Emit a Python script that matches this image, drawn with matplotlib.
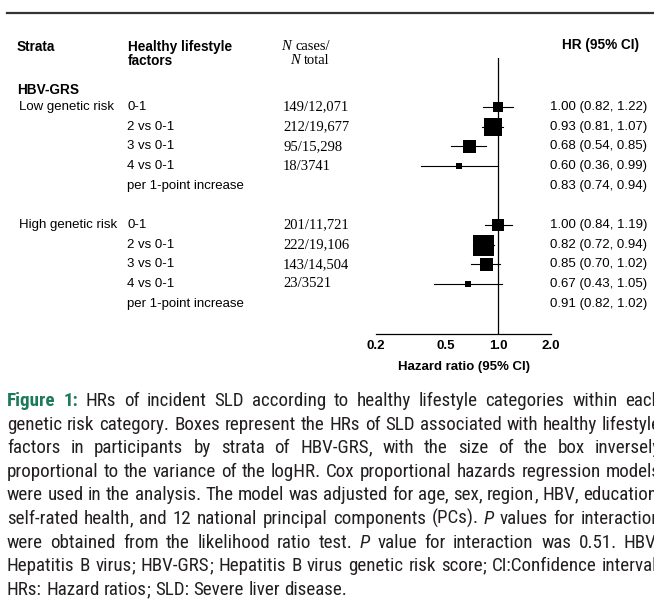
import re
import matplotlib
matplotlib.use("Agg")
import matplotlib.pyplot as plt
import matplotlib.font_manager as fm
from matplotlib.lines import Line2D
from matplotlib.ticker import FixedLocator, NullFormatter
from matplotlib.transforms import blended_transform_factory

# ---------------- data ----------------
group_names = ["Low genetic risk", "High genetic risk"]
factor_labels = ["0-1", "2 vs 0-1", "3 vs 0-1", "4 vs 0-1", "per 1-point increase"]

cases_low = ["149/12,071", "212/19,677", "95/15,298", "18/3741", ""]
cases_high = ["201/11,721", "222/19,106", "143/14,504", "23/3521", ""]

hr_low = [1.00, 0.93, 0.68, 0.60, 0.83]
lo_low = [0.82, 0.81, 0.54, 0.36, 0.74]
hi_low = [1.22, 1.07, 0.85, 0.99, 0.94]

hr_high = [1.00, 0.82, 0.85, 0.67, 0.91]
lo_high = [0.84, 0.72, 0.70, 0.43, 0.82]
hi_high = [1.19, 0.94, 1.02, 1.05, 1.02]

plotted = [True, True, True, True, False]

x_ticks = [0.2, 0.5, 1.0, 2.0]
x_tick_labels = ["0.2", "0.5", "1.0", "2.0"]

# box side lengths in pixels (style)
box_px_low = [10, 18, 13, 6, 0]
box_px_high = [12, 21, 13, 6, 0]

caption_lines = [
    "*Figure *1: HRs of incident SLD according to healthy lifestyle categories within each",
    "genetic risk category. Boxes represent the HRs of SLD associated with healthy lifestyle",
    "factors in participants by strata of HBV-GRS, with the size of the box inversely",
    "proportional to the variance of the logHR. Cox proportional hazards regression models",
    "were used in the analysis. The model was adjusted for age, sex, region, HBV, education,",
    "self-rated health, and 12 national principal components (PCs). _P values for interaction",
    "were obtained from the likelihood ratio test. _P value for interaction was 0.51. HBV:",
    "Hepatitis B virus; HBV-GRS; Hepatitis B virus genetic risk score; CI:Confidence interval;",
    "HRs: Hazard ratios; SLD: Severe liver disease.",
]

# ---------------- fonts ----------------
SANS = "Liberation Sans"
SERIF = "Liberation Serif"
fonts = fm.fontManager.ttflist
names = {f.name for f in fonts}
cap_kw = {"family": SANS}
for cand in ["Roboto Condensed", "Liberation Sans Narrow", "Open Sans Condensed", "Arial Narrow"]:
    if cand in names:
        cap_kw = {"family": cand}
        break
else:
    if any(f.name == "DejaVu Sans" and str(f.stretch) == "condensed" for f in fonts):
        cap_kw = {"family": "DejaVu Sans", "fontstretch": "condensed"}

# ---------------- figure ----------------
W, H = 654, 610
fig = plt.figure(figsize=(W / 100, H / 100), dpi=100)
fig.patch.set_facecolor("white")
renderer = fig.canvas.get_renderer()


def fx(px):
    return px / W


def fy(py):
    return 1 - py / H


# top rule
fig.add_artist(Line2D([fx(7), 1.0], [fy(13), fy(13)], lw=1.6, color="#333333"))

AX_L, AX_R, AX_T, AX_B = 376, 551, 58, 334
ax = fig.add_axes([fx(AX_L), fy(AX_B), (AX_R - AX_L) / W, (AX_B - AX_T) / H])
ax.set_xscale("log")
ax.set_xlim(0.2, 2.0)
ax.set_ylim(11.55, -2.5)
ax.set_facecolor("none")
for s in ["top", "left", "right"]:
    ax.spines[s].set_visible(False)
ax.spines["bottom"].set_linewidth(0.9)
ax.set_yticks([])
ax.set_xticks(x_ticks)
ax.set_xticklabels(x_tick_labels, fontfamily=SANS, fontweight="bold", fontsize=9.5)
ax.xaxis.set_minor_locator(FixedLocator([0.2, 2.0]))
ax.xaxis.set_minor_formatter(NullFormatter())
ax.tick_params(axis="x", which="major", length=0, pad=4.5)
ax.tick_params(axis="x", which="minor", direction="in", length=4, width=0.9)
ax.set_xlabel("Hazard ratio (95% CI)", fontfamily=SANS, fontweight="bold",
              fontsize=9.5, labelpad=6)

ax.axvline(1.0, color="black", lw=0.9, zorder=1)

groups = [
    (0, group_names[0], cases_low, hr_low, lo_low, hi_low, box_px_low),
    (6, group_names[1], cases_high, hr_high, lo_high, hi_high, box_px_high),
]

trans = blended_transform_factory(fig.transFigure, ax.transData)
body = dict(fontfamily=SANS, fontsize=9.5, color="black", va="center", transform=trans)

for start, gname, cases, hr, lo, hi, box in groups:
    ax.text(fx(19), start, gname, **body)
    for i in range(len(factor_labels)):
        y = start + i
        ax.text(fx(127), y, factor_labels[i], **body)
        if cases[i]:
            ax.text(fx(283), y, cases[i], fontfamily=SERIF, fontsize=10.5,
                    color="black", va="center", transform=trans)
        ax.text(fx(550), y, f"{hr[i]:.2f} ({lo[i]:.2f}, {hi[i]:.2f})", **body)
        if plotted[i]:
            ax.plot([lo[i], hi[i]], [y, y], color="black", lw=0.8, zorder=2)
            ax.plot([hr[i]], [y], marker="s", ms=box[i] * 0.72, color="black",
                    mec="black", mew=0, lw=0, zorder=3)

# headers
hdr = dict(fontfamily=SANS, fontsize=9.8, fontweight="bold", color="black", va="center")
fig.text(fx(17), fy(47), "Strata", **hdr)
fig.text(fx(128), fy(47), "Healthy lifestyle", **hdr)
fig.text(fx(128), fy(61), "factors", **hdr)
fig.text(fx(562), fy(45), "HR (95% CI)", **hdr)
fig.text(fx(17), fy(90), "HBV-GRS", **hdr)

it = dict(fontfamily=SERIF, fontsize=10.5, style="italic", color="black")
rm = dict(fontfamily=SERIF, fontsize=10.5, color="black")
sp = 4.5
t_n = fig.text(0, 0, "N", **it)
wN = t_n.get_window_extent(renderer).width
t_n.remove()
fig.text(fx(281), fy(47), "N", va="center", **it)
fig.text(fx(281 + wN + sp), fy(47), "cases/", va="center", **rm)
fig.text(fx(290), fy(61), "N", va="center", **it)
fig.text(fx(290 + wN + sp), fy(61), "total", va="center", **rm)

# ---------------- caption ----------------
cap_color = "#231f20"
green = "#1c7a5a"
X0, X1 = 7, 661
BASE0, LSTEP = 406, 23.6


def style_for(tok):
    if tok.startswith("*"):
        return tok[1:], dict(color=green, fontweight="bold", **cap_kw)
    if tok.startswith("_"):
        return tok[1:], dict(color=cap_color, style="italic", **cap_kw)
    return tok, dict(color=cap_color, **cap_kw)


def measure(s, size, kw):
    t = fig.text(0, 0, s, fontsize=size, **kw)
    w = t.get_window_extent(renderer).width
    t.remove()
    return w


# fit the font size so that the tightest line (line 5) fills the measure
ref_size = 12.0
nat = measure(caption_lines[4], ref_size, cap_kw)
CAP_SIZE = min(14.0, max(11.0, ref_size * (X1 - X0) / nat))

space_w = measure("a a", CAP_SIZE, cap_kw) - measure("aa", CAP_SIZE, cap_kw)

for li, line in enumerate(caption_lines):
    base_px = round(BASE0 + li * LSTEP)
    y = fy(base_px)
    toks = line.split(" ")
    words = []   # list of (list of (Text, width)), total width
    for tok in toks:
        s, kw = style_for(tok)
        # trailing comma/semicolon drawn as its own piece so that every
        # word sits on exactly the same pixel baseline
        m = re.match(r"^(.*?)([,;]*)$", s)
        pieces = [p for p in (m.group(1), m.group(2)) if p]
        parts = []
        for p in pieces:
            t = fig.text(0, y, p, fontsize=CAP_SIZE, va="baseline", ha="left", **kw)
            parts.append((t, t.get_window_extent(renderer).width))
        words.append(parts)
    widths = [sum(w for _, w in parts) for parts in words]
    last = li == len(caption_lines) - 1
    if last or len(words) < 2:
        gap = space_w
    else:
        gap = (X1 - X0 - sum(widths)) / (len(words) - 1)
        gap = max(gap, space_w * 0.6)
    x = X0
    for parts, w in zip(words, widths):
        xx = x
        for t, pw in parts:
            t.set_x(fx(xx))
            xx += pw
        x += w + gap

fig.savefig("out.png", dpi=100, facecolor="white")
